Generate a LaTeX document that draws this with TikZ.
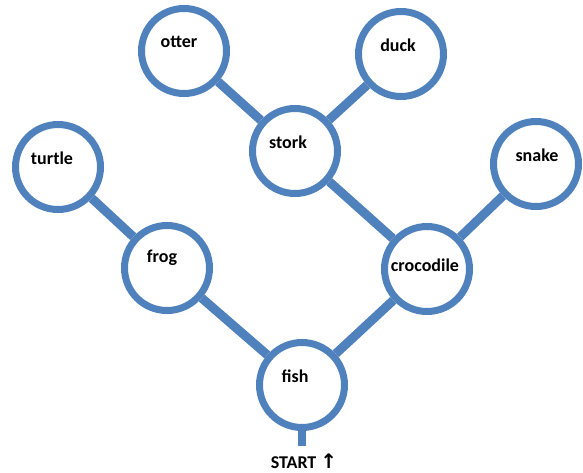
\documentclass[tikz,border=0pt]{standalone}
\usepackage{fontspec}
\setmainfont{Carlito}
\newfontfamily\arrowfont{DejaVu Sans}
\definecolor{nodeblue}{RGB}{79,129,189}

\begin{document}
\begin{tikzpicture}[x=1pt,y=-1pt,font=\bfseries\fontsize{18}{20}\selectfont,
    link/.style={draw=nodeblue,line width=9pt}]
    \tikzstyle{animal}=[circle,draw=nodeblue,fill=white,line width=7pt,minimum size=85pt,inner sep=0pt]
    \useasboundingbox (0,0) rectangle (583,472);

    \node[animal,label={[xshift=-5pt,yshift=9pt]center:otter}] (otter) at (184,51) {};
    \node[animal,label={[xshift=-3pt,yshift=9pt]center:duck}] (duck) at (401,54) {};
    \node[animal,label={[xshift=-7pt,yshift=9pt]center:stork}] (stork) at (295,151) {};
    \node[animal,label={[xshift=-6pt,yshift=9pt]center:turtle}] (turtle) at (58,167) {};
    \node[animal,label={[xshift=1pt,yshift=9pt]center:snake}] (snake) at (536,164) {};
    \node[animal,label={[xshift=-5pt,yshift=10pt]center:frog}] (frog) at (167,268) {};
    \node[animal,label={[xshift=-2pt,yshift=4pt]center:crocodile}] (crocodile) at (427,269) {};
    \node[animal,label={[xshift=-7pt,yshift=9pt]center:fish}] (fish) at (302,385) {};

    \draw[link] (otter) -- (stork);
    \draw[link] (duck) -- (stork);
    \draw[link] (stork) -- (crocodile);
    \draw[link] (snake) -- (crocodile);
    \draw[link] (turtle) -- (frog);
    \draw[link] (frog) -- (fish);
    \draw[link] (crocodile) -- (fish);

    \coordinate (stem) at (302,446);
    \draw[nodeblue,line width=8pt] (fish) -- (stem);
    \node[inner sep=0pt] (start) at (304,461) {START {\arrowfont\bfseries\fontsize{20}{20}\selectfont ↑}};

  \end{tikzpicture}
\end{document}
